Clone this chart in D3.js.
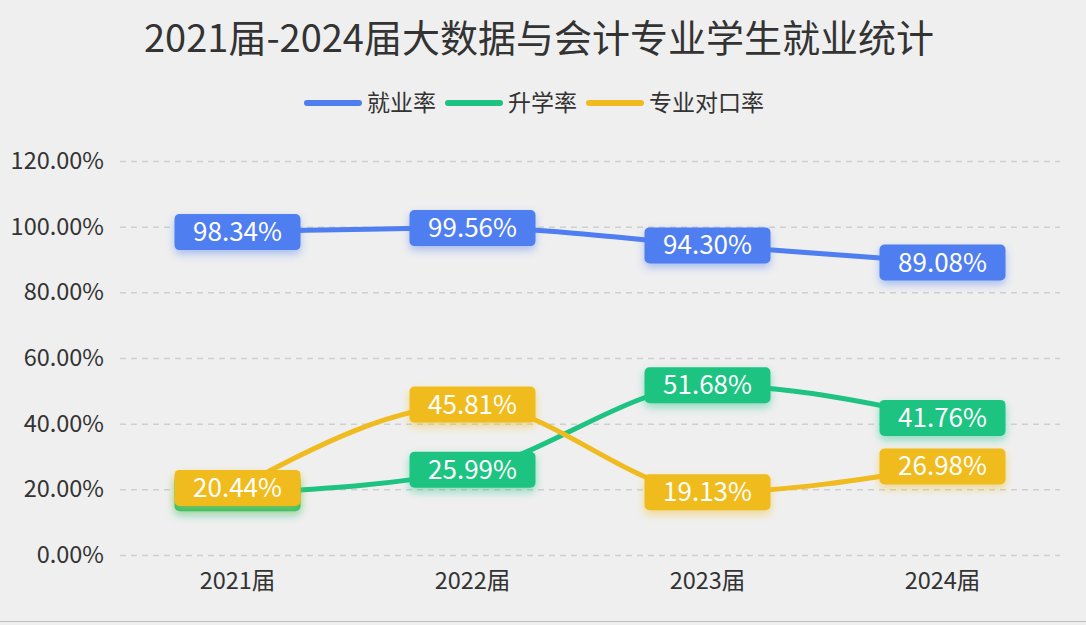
<!DOCTYPE html>
<html>
<head>
<meta charset="utf-8">
<script src="https://cdn.jsdelivr.net/npm/d3@7"></script>
<style>
  html, body { margin: 0; padding: 0; background: #efefef; }
  svg { display: block; font-family: "Microsoft YaHei", "Noto Sans CJK SC", "Noto Sans", sans-serif; }
</style>
</head>
<body>
<svg id="chart" width="1086" height="625"></svg>
<script>
const years = ['2021届', '2022届', '2023届', '2024届'];
const employRate = [98.34, 99.56, 94.30, 89.08];
const furtherRate = [18.78, 25.99, 51.68, 41.76];
const matchRate = [20.44, 45.81, 19.13, 26.98];
const yTicks = [0, 20, 40, 60, 80, 100, 120];

const series = [
  {name: '就业率', values: employRate, color: '#4f7ef0'},
  {name: '升学率', values: furtherRate, color: '#1ec381'},
  {name: '专业对口率', values: matchRate, color: '#f0bb1f'}
];

const svg = d3.select('#chart');
const W = 1086, H = 625;
const m = {left: 120, right: 26, top: 161, bottom: 70};

svg.append('rect').attr('width', W).attr('height', H).attr('fill', '#efefef');
svg.append('line').attr('x1', 0).attr('x2', W).attr('y1', H - 3.5).attr('y2', H - 3.5)
  .attr('stroke', '#bdbdbd').attr('stroke-width', 1);

const x = d3.scaleBand().domain(years).range([m.left, W - m.right]);
const y = d3.scaleLinear().domain([0, 120]).range([H - m.bottom, m.top]);
const cx = d => x(d) + x.bandwidth() / 2;

// shadow filters
const defs = svg.append('defs');
series.forEach((s, i) => {
  const f = defs.append('filter').attr('id', 'sh' + i)
    .attr('x', '-30%').attr('y', '-40%').attr('width', '160%').attr('height', '200%');
  f.append('feDropShadow').attr('dx', 0).attr('dy', 4).attr('stdDeviation', 4)
    .attr('flood-color', s.color).attr('flood-opacity', 0.45);
});

// title
svg.append('text').attr('x', 539).attr('y', 52).attr('text-anchor', 'middle')
  .attr('font-size', 38).attr('fill', '#333').text('2021届-2024届大数据与会计专业学生就业统计');

// legend
const legendX = [304, 445, 586];
series.forEach((s, i) => {
  const g = svg.append('g').attr('transform', `translate(${legendX[i]},103)`);
  g.append('line').attr('x1', 3).attr('x2', 55).attr('stroke', s.color)
    .attr('stroke-width', 6).attr('stroke-linecap', 'round');
  g.append('text').attr('x', 63).attr('y', 8).attr('font-size', 23).attr('fill', '#333').text(s.name);
});

// y axis grid + labels
const yAxis = svg.append('g').attr('transform', `translate(${m.left},0)`)
  .call(d3.axisLeft(y).tickValues(yTicks).tickSize(-(W - m.left - m.right)).tickPadding(16)
    .tickFormat(d => d.toFixed(2) + '%'))
  .attr('font-family', null).attr('font-size', null);
yAxis.select('.domain').remove();
yAxis.selectAll('.tick line').attr('stroke', '#cfcfcf').attr('stroke-width', 1.5).attr('stroke-dasharray', '6,5');
yAxis.selectAll('.tick text').attr('font-size', 23.5).attr('fill', '#333');

// x axis labels
const xAxis = svg.append('g').attr('transform', `translate(0,${H - m.bottom})`)
  .call(d3.axisBottom(x).tickSize(0).tickPadding(17))
  .attr('font-family', null).attr('font-size', null);
xAxis.select('.domain').remove();
xAxis.selectAll('.tick text').attr('font-size', 23.5).attr('fill', '#333');

// lines
const line = d3.line().x((d, i) => cx(years[i])).y(d => y(d)).curve(d3.curveMonotoneX);
series.forEach(s => {
  svg.append('path').datum(s.values).attr('d', line).attr('fill', 'none')
    .attr('stroke', s.color).attr('stroke-width', 5).attr('stroke-linecap', 'round');
});

// labels
const bw = 126, bh = 36;
series.forEach((s, i) => {
  const g = svg.append('g');
  s.values.forEach((v, j) => {
    const px = cx(years[j]), py = y(v);
    g.append('rect').attr('x', px - bw / 2).attr('y', py - bh / 2).attr('width', bw).attr('height', bh)
      .attr('rx', 5).attr('fill', s.color).attr('filter', `url(#sh${i})`);
    g.append('text').attr('x', px).attr('y', py + 9).attr('text-anchor', 'middle')
      .attr('font-size', 26).attr('fill', '#fff').text(v.toFixed(2) + '%');
  });
});
</script>
</body>
</html>
